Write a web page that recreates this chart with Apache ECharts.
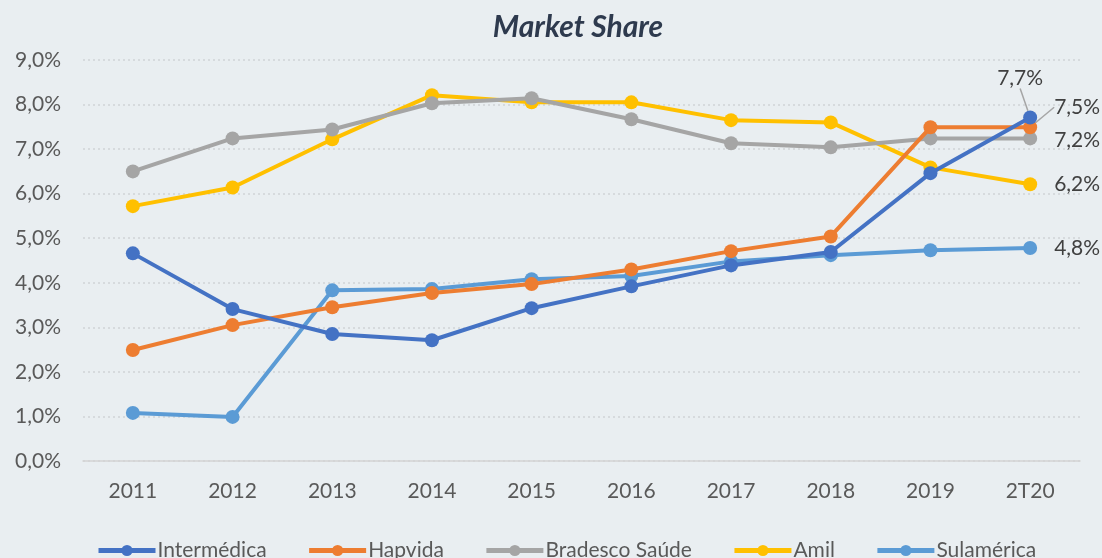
<!DOCTYPE html>
<html lang="pt">
<head>
  <meta charset="UTF-8">
  <title>Market Share</title>
  <script src="https://cdn.jsdelivr.net/npm/echarts@6/dist/echarts.min.js"></script>
  <style>
    * { margin: 0; padding: 0; }
    body { background-color: #e9eef1; }
    #chart { width: 1102px; height: 558px; }
  </style>
</head>
<body>
  <div id="chart"></div>
  <script>
    // dados (% de market share)
    const anos = ['2011', '2012', '2013', '2014', '2015', '2016', '2017', '2018', '2019', '2T20']
    const nomes = ['Intermédica', 'Hapvida', 'Bradesco Saúde', 'Amil', 'Sulamérica']
    const intermedica = [4.66, 3.41, 2.85, 2.71, 3.43, 3.92, 4.39, 4.69, 6.46, 7.71]
    const hapvida = [2.49, 3.05, 3.45, 3.77, 3.97, 4.30, 4.71, 5.04, 7.49, 7.49]
    const bradesco = [6.50, 7.24, 7.44, 8.03, 8.14, 7.67, 7.13, 7.04, 7.24, 7.24]
    const amil = [5.72, 6.14, 7.22, 8.21, 8.05, 8.05, 7.65, 7.60, 6.59, 6.21]
    const sulamerica = [1.08, 0.99, 3.83, 3.86, 4.08, 4.15, 4.48, 4.62, 4.73, 4.78]
    const cores = ['#4472c4', '#ed7d31', '#a5a5a5', '#ffc000', '#5b9bd5']

    const fonte = 'Lato, "Open Sans", sans-serif'
    const fmt = v => v.toFixed(1).replace('.', ',') + '%'

    // deslocamento do rótulo do último ponto de cada série
    const ajustes = [
      { dx: -10, dy: -16, pos: 'top', line: true },
      { dx: 11, dy: -20, pos: 'right', line: true },
      { dx: 11, dy: 2, pos: 'right', line: false },
      { dx: 11, dy: 0, pos: 'right', line: false },
      { dx: 11, dy: 0, pos: 'right', line: false }
    ]

    const dados = [intermedica, hapvida, bradesco, amil, sulamerica]

    const series = dados.map((vals, i) => ({
      name: nomes[i],
      type: 'line',
      data: vals.map((v, j) => {
        if (j < vals.length - 1) return v
        return {
          value: v,
          label: {
            show: true,
            position: ajustes[i].pos,
            distance: 6,
            formatter: p => fmt(p.value),
            color: '#404040',
            fontSize: 21,
            fontFamily: fonte
          }
        }
      }),
      labelLine: {
        show: ajustes[i].line,
        lineStyle: { color: '#a5a5a5', width: 1.5 }
      },
      labelLayout: () => ({ dx: ajustes[i].dx, dy: ajustes[i].dy }),
      color: cores[i],
      symbol: 'circle',
      symbolSize: 14,
      lineStyle: { width: 4, color: cores[i] },
      itemStyle: { color: cores[i] },
      z: 10 - i
    }))

    const chart = echarts.init(document.getElementById('chart'))
    chart.setOption({
      backgroundColor: '#e9eef1',
      animation: false,
      title: {
        text: 'Market Share',
        left: 573,
        textAlign: 'center',
        top: 7,
        textStyle: {
          fontFamily: fonte,
          fontSize: 30,
          fontWeight: 'bold',
          fontStyle: 'italic',
          color: '#2e3a4e'
        }
      },
      legend: {
        data: nomes,
        bottom: -3,
        left: 96,
        padding: 0,
        itemGap: 40,
        itemWidth: 57,
        itemHeight: 14,
        lineStyle: { width: 5 },
        textStyle: { fontFamily: fonte, fontSize: 21, color: '#595959', padding: [0, 0, 0, -3] }
      },
      grid: { left: 83, right: 22, top: 60, bottom: 97 },
      xAxis: {
        type: 'category',
        data: anos,
        axisLine: { lineStyle: { color: '#d4d4d4', width: 1.5 } },
        axisTick: { show: false },
        axisLabel: { fontFamily: fonte, fontSize: 21, color: '#595959', margin: 20 }
      },
      yAxis: {
        type: 'value',
        min: 0,
        max: 9,
        interval: 1,
        axisLine: { show: false },
        axisTick: { show: false },
        axisLabel: { fontFamily: fonte, fontSize: 21, color: '#595959', margin: 22, formatter: v => fmt(v) },
        splitLine: { lineStyle: { color: '#cfd3d6', type: [2, 3], width: 1.5 } }
      },
      series: series
    })
  </script>
</body>
</html>
